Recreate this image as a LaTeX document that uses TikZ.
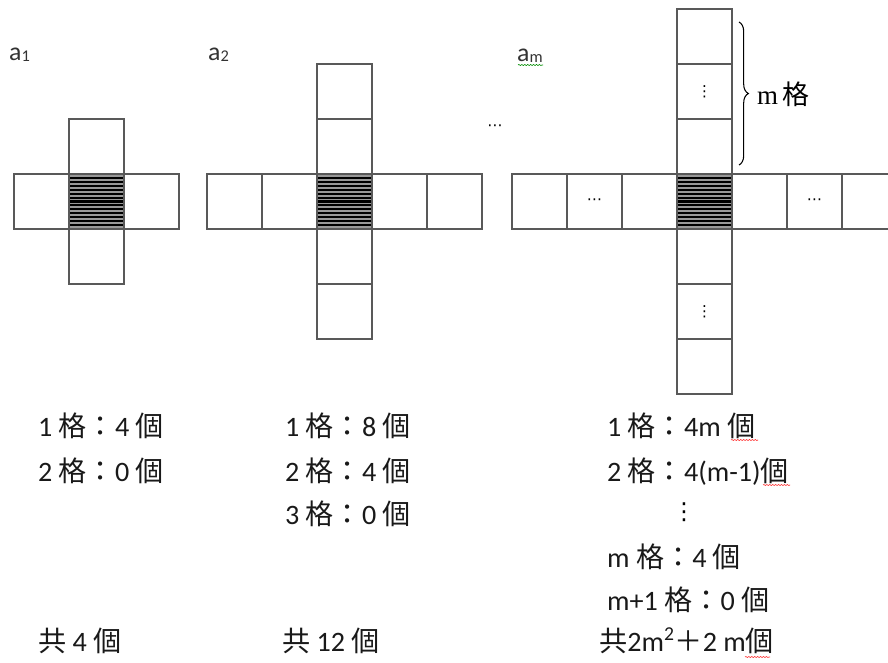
\documentclass[tikz,border=0pt]{standalone}
\usepackage{fontspec}
\setmainfont{Carlito}
\newfontfamily\cjk{Noto Sans CJK TC}
\newfontfamily\serifm{Liberation Serif}
\newfontfamily\symf{DejaVu Sans}
\usetikzlibrary{positioning,decorations.pathreplacing,decorations.pathmorphing}

\tikzset{
  cell/.style={draw=black!65,line width=1.1pt},
  count/.style={font=\fontsize{24}{28}\selectfont,text=black!90,anchor=base west,inner sep=0pt},
  figlabel/.style={font=\fontsize{22}{24}\selectfont,text=black!80,anchor=base west,inner sep=0pt},
  celldots/.style={font=\symf\fontsize{13}{15}\selectfont,inner sep=0pt},
  spell/.style={decorate,decoration={snake,amplitude=0.5pt,segment length=2.5pt},line width=0.5pt},
}
% shaded centre cell, drawn at the origin of the current scope
\newcommand{\hatchcell}{%
  \fill[black!40] (0,0) rectangle (\s,\s);
  \foreach \k in {0,...,14}
    \draw[line width=1.8pt] (0,\k*\s/14) -- ++(\s,0);
  \draw[cell] (0,0) rectangle (\s,\s);}

\begin{document}
\begin{tikzpicture}[x=0.03cm,y=-0.03cm]
  \def\s{55}
  \useasboundingbox (0,0) rectangle (888,662);
  % a_1
  \begin{scope}[shift={(69,174)}]
    \foreach \i/\j in {-1/0,1/0,0/-1,0/1}
      \draw[cell] (\i*\s,\j*\s) rectangle ++(\s,\s);
    \hatchcell
  \end{scope}
  \node[figlabel] (lab1) at (9,60) {a\raisebox{-1pt}{\fontsize{14}{14}\selectfont 1}};
  % a_2
  \begin{scope}[shift={(317,174)}]
    \foreach \i/\j in {-2/0,-1/0,1/0,2/0,0/-2,0/-1,0/1,0/2}
      \draw[cell] (\i*\s,\j*\s) rectangle ++(\s,\s);
    \hatchcell
  \end{scope}
  \node[figlabel] (lab2) at (208,60) {a\raisebox{-1pt}{\fontsize{14}{14}\selectfont 2}};
  \node[celldots] (gap) at (495,128) {⋯};
  % a_m
  \begin{scope}[shift={(677,174)}]
    \foreach \i/\j in {-3/0,-2/0,-1/0,1/0,2/0,3/0,0/-3,0/-2,0/-1,0/1,0/2,0/3}
      \draw[cell] (\i*\s,\j*\s) rectangle ++(\s,\s);
    \hatchcell
    \node[celldots] (dl) at (-1.5*\s,0.5*\s) {⋯};
    \node[celldots] (dr) at (2.5*\s,0.5*\s) {⋯};
    \node[celldots] (du) at (0.5*\s,-1.5*\s) {⋮};
    \node[celldots] (dd) at (0.5*\s,2.5*\s) {⋮};
  \end{scope}
  \node[figlabel] (labm) at (517,61) {a\raisebox{-1pt}{\fontsize{14}{14}\selectfont m}};
  \draw[spell,green!55!black] (518,65) -- (543,65);
  \coordinate (brtop) at (739,22);
  \coordinate (brbot) at (739,165);
  \draw[decorate,decoration={brace,amplitude=8pt},line width=0.9pt] (brtop) -- (brbot);
  \node[anchor=base west,inner sep=0pt,font=\fontsize{23}{26}\selectfont] (mge) at (757,104)
    {\serifm m\,{\cjk 格}};
  % counts
  \node[count] (c1a) at (38,436) {1 {\cjk 格：}4 {\cjk 個}};
  \node[count] (c1b) at (38,481) {2 {\cjk 格：}0 {\cjk 個}};
  \node[count] (t1)  at (38,651) {{\cjk 共} 4 {\cjk 個}};
  \node[count] (c2a) at (285,436) {1 {\cjk 格：}8 {\cjk 個}};
  \node[count] (c2b) at (285,481) {2 {\cjk 格：}4 {\cjk 個}};
  \node[count] (c2c) at (285,524) {3 {\cjk 格：}0 {\cjk 個}};
  \node[count] (t2)  at (282,651) {{\cjk 共} 12 {\cjk 個}};
  \node[count] (c3a) at (607,436) {1 {\cjk 格：}4m {\cjk 個}};
  \node[count] (c3b) at (607,481) {2 {\cjk 格：}4(m-1){\cjk 個}};
  \node[font=\symf\fontsize{20}{22}\selectfont,inner sep=0pt] (c3v) at (684,512) {⋮};
  \node[count] (c3c) at (607,567) {m {\cjk 格：}4 {\cjk 個}};
  \node[count] (c3d) at (607,610) {m+1 {\cjk 格：}0 {\cjk 個}};
  \node[count] (t3)  at (599,651) {{\cjk 共}2m\textsuperscript{2}{\cjk ＋}2 m{\cjk 個}};
  \draw[spell,red!80] (731,440) -- (758,440);
  \draw[spell,red!80] (763,485) -- (790,485);
  \draw[spell,red!80] (745,657) -- (770,657);
\end{tikzpicture}
\end{document}
